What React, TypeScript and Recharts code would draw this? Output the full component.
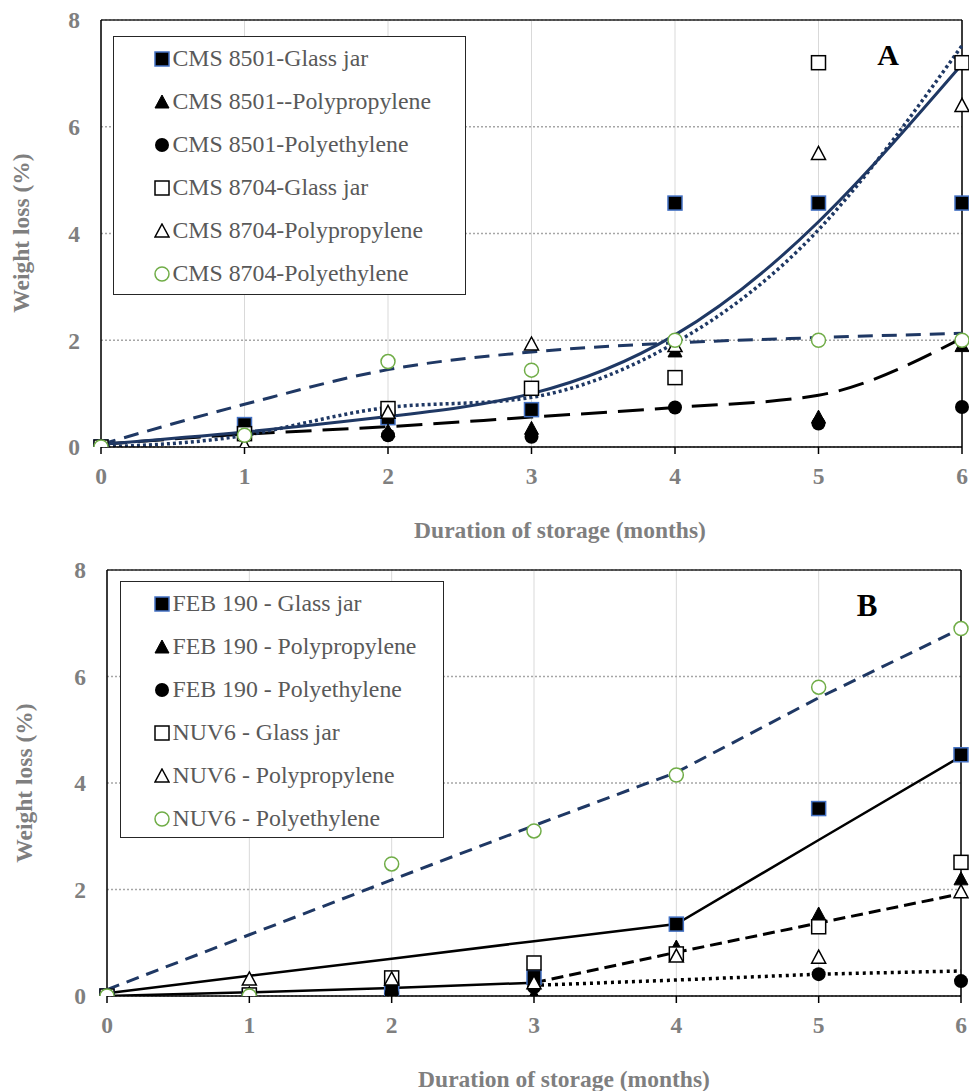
import React from 'react';
import { ComposedChart, Line, Scatter, XAxis, YAxis, CartesianGrid, ReferenceLine, Legend } from 'recharts';

const FONT = '"Liberation Serif", "Times New Roman", serif';

const months = [0, 1, 2, 3, 4, 5, 6];
const yTicks = [0, 2, 4, 6, 8];

// ---------- Panel A ----------
const aLabels = [
  'CMS 8501-Glass jar',
  'CMS 8501--Polypropylene',
  'CMS 8501-Polyethylene',
  'CMS 8704-Glass jar',
  'CMS 8704-Polypropylene',
  'CMS 8704-Polyethylene',
];
const a8501Glass = [0, 0.42, 0.55, 0.7, 4.57, 4.57, 4.57];
const a8501PP = [0, 0.3, 0.3, 0.35, 1.8, 0.56, 1.9];
const a8501PE = [0, 0.2, 0.22, 0.19, 0.74, 0.44, 0.75];
const a8704Glass = [0, 0.25, 0.72, 1.1, 1.3, 7.2, 7.2];
const a8704PP = [0, 0.03, 0.65, 1.93, 1.9, 5.5, 6.4];
const a8704PE = [0, 0.22, 1.6, 1.44, 2.0, 2.0, 2.0];
// trend lines
const aTrendSolid = [0.05, 0.28, 0.57, 1.0, 2.1, 4.22, 7.17];
const aTrendDotted = [0, 0.22, 0.74, 0.93, 1.95, 4.07, 7.52];
const aTrendDashed = [0.05, 0.8, 1.45, 1.78, 1.95, 2.05, 2.13];
const aTrendLongDash = [0.05, 0.24, 0.38, 0.56, 0.74, 0.97, 2.04];

// ---------- Panel B ----------
const bLabels = [
  'FEB 190 - Glass jar',
  'FEB 190 - Polypropylene',
  'FEB 190 - Polyethylene',
  'NUV6 - Glass jar',
  'NUV6 - Polypropylene',
  'NUV6 - Polyethylene',
];
const bFebGlass = [0, 0, 0.1, 0.35, 1.35, 3.52, 4.53];
const bFebPP = [0, 0.05, 0.05, 0.02, 0.92, 1.54, 2.2];
const bFebPE = [0, 0, 0.05, 0.17, 0.8, 0.41, 0.28];
const bNuvGlass = [0, 0.02, 0.34, 0.62, 0.79, 1.3, 2.51];
const bNuvPP = [0, 0.32, 0.32, 0.25, 0.75, 0.73, 1.96];
const bNuvPE = [0, 0, 2.48, 3.1, 4.15, 5.8, 6.9];
// trend lines
const bTrendBlueDash = [0.12, 1.15, 2.18, 3.2, 4.2, 5.6, 6.9];
const bTrendSolid = [0.05, 0.38, 0.7, 1.03, 1.35, 2.93, 4.5];
const bLowMonths = [0, 1, 2, 3];
const bTrendLowSolid = [0, 0.07, 0.15, 0.25];
const bLateMonths = [3, 4, 5, 6];
const bTrendBlackDash = [0.25, 0.82, 1.37, 1.92];
const bTrendDotted = [0.2, 0.3, 0.41, 0.47];

type Pt = { x: number; y: number };
const toPts = (xs: number[], ys: number[]): Pt[] => xs.map((x, i) => ({ x, y: ys[i] }));

// ---------- markers ----------
const H = 7;
const FilledSquare = (p: any) => (
  <rect x={p.cx - H} y={p.cy - H} width={2 * H} height={2 * H} fill="#000" stroke="#4472c4" strokeWidth={1.5} />
);
const OpenSquare = (p: any) => (
  <rect x={p.cx - H} y={p.cy - H} width={2 * H} height={2 * H} fill="#fff" stroke="#000" strokeWidth={1.5} />
);
const triPts = (cx: number, cy: number) => `${cx},${cy - H} ${cx + H},${cy + H - 1} ${cx - H},${cy + H - 1}`;
const FilledTriangle = (p: any) => <polygon points={triPts(p.cx, p.cy)} fill="#000" stroke="#000" strokeWidth={1} />;
const OpenTriangle = (p: any) => <polygon points={triPts(p.cx, p.cy)} fill="#fff" stroke="#000" strokeWidth={1.5} />;
const FilledCircle = (p: any) => <circle cx={p.cx} cy={p.cy} r={H} fill="#000" />;
const GreenCircle = (p: any) => <circle cx={p.cx} cy={p.cy} r={H} fill="#fff" stroke="#70ad47" strokeWidth={1.5} />;

const markerShapes = [FilledSquare, FilledTriangle, FilledCircle, OpenSquare, OpenTriangle, GreenCircle];

const LegendBox = ({ labels, width, height, markerLeft }: { labels: string[]; width: number; height: number; markerLeft: number }) => (
  <div
    style={{
      width,
      height,
      border: '1.5px solid #262626',
      background: '#fff',
      boxSizing: 'border-box',
      fontFamily: FONT,
      fontSize: 23.8,
      color: '#595959',
    }}
  >
    {labels.map((l, i) => {
      const Shape = markerShapes[i];
      return (
        <div key={i} style={{ height: 43, display: 'flex', alignItems: 'center', whiteSpace: 'nowrap' }}>
          <svg width={16} height={16} style={{ marginLeft: markerLeft, flex: 'none' }}>
            <Shape cx={8} cy={8} />
          </svg>
          <span style={{ marginLeft: 3 }}>{l}</span>
        </div>
      );
    })}
  </div>
);

const tickStyle = { fill: '#7f7f7f', fontSize: 23.5, fontWeight: 'bold' as const, fontFamily: FONT };

const titleStyle = (x: number, y: number, rotate = false, extra: any = {}) => ({
  position: 'absolute' as const,
  left: x,
  top: y,
  transform: `translate(-50%, -50%)${rotate ? ' rotate(-90deg)' : ''}`,
  whiteSpace: 'nowrap' as const,
  fontFamily: FONT,
  fontWeight: 'bold' as const,
  fontSize: 23.5,
  color: '#7f7f7f',
  lineHeight: 1,
  ...extra,
});

type PanelProps = {
  height: number;
  margin: { top: number; right: number; left: number; bottom: number };
  yWidth: number;
  xHeight: number;
  scatter: number[][];
  labels: string[];
  legendPos: { left: number; top: number; width: number; height: number; markerLeft: number };
  lines: React.ReactNode;
};

const Panel = ({ height, margin, yWidth, xHeight, scatter, labels, legendPos, lines }: PanelProps) => (
  <ComposedChart width={969} height={height} margin={margin}>
    <CartesianGrid horizontal={false} stroke="#d9d9d9" strokeWidth={1} />
    <CartesianGrid vertical={false} stroke="#a6a6a6" strokeWidth={1.5} strokeDasharray="2 2" />
    <XAxis
      type="number"
      dataKey="x"
      domain={[0, 6]}
      ticks={months}
      height={xHeight}
      tick={tickStyle}
      tickSize={7}
      tickMargin={13}
      axisLine={{ stroke: '#000', strokeWidth: 1.5 }}
      tickLine={{ stroke: '#000', strokeWidth: 1.5 }}
    />
    <YAxis
      type="number"
      dataKey="y"
      domain={[0, 8]}
      ticks={yTicks}
      allowDataOverflow
      width={yWidth}
      tick={tickStyle}
      tickLine={false}
      tickSize={0}
      tickMargin={21}
      axisLine={{ stroke: '#000', strokeWidth: 1.5 }}
    />
    <ReferenceLine y={8} stroke="#262626" strokeWidth={1.5} />
    <ReferenceLine x={6} stroke="#000" strokeWidth={1.5} />
    {lines}
    {scatter.map((vals, i) => (
      <Scatter
        key={i}
        name={labels[i]}
        data={toPts(months, vals)}
        dataKey="y"
        shape={markerShapes[i]}
        isAnimationActive={false}
      />
    ))}
    <Legend
      layout="vertical"
      align="center"
      verticalAlign="middle"
      wrapperStyle={{
        left: legendPos.left,
        top: legendPos.top,
        right: 'auto',
        bottom: 'auto',
        width: legendPos.width,
        height: legendPos.height,
      }}
      content={() => (
        <LegendBox labels={labels} width={legendPos.width} height={legendPos.height} markerLeft={legendPos.markerLeft} />
      )}
    />
  </ComposedChart>
);

const lineCommon = { dataKey: 'y', dot: false, activeDot: false, isAnimationActive: false, legendType: 'none' as const };

export default function App() {
  const linesA = [
    <Line key="a1" {...lineCommon} data={toPts(months, aTrendDashed)} type="monotone" stroke="#1f3864" strokeWidth={3} strokeDasharray="15 9" />,
    <Line key="a2" {...lineCommon} data={toPts(months, aTrendLongDash)} type="monotone" stroke="#000" strokeWidth={3} strokeDasharray="26 11" />,
    <Line key="a3" {...lineCommon} data={toPts(months, aTrendDotted)} type="natural" stroke="#1f3864" strokeWidth={3.5} strokeDasharray="3 3" />,
    <Line key="a4" {...lineCommon} data={toPts(months, aTrendSolid)} type="natural" stroke="#1f3864" strokeWidth={3} />,
  ];
  const linesB = [
    <Line key="b1" {...lineCommon} data={toPts(months, bTrendBlueDash)} type="linear" stroke="#1f3864" strokeWidth={3} strokeDasharray="13 8" />,
    <Line key="b2" {...lineCommon} data={toPts(months, bTrendSolid)} type="linear" stroke="#000" strokeWidth={2.5} />,
    <Line key="b3" {...lineCommon} data={toPts(bLowMonths, bTrendLowSolid)} type="linear" stroke="#000" strokeWidth={2.5} />,
    <Line key="b4" {...lineCommon} data={toPts(bLateMonths, bTrendBlackDash)} type="linear" stroke="#000" strokeWidth={3} strokeDasharray="12 6" />,
    <Line key="b5" {...lineCommon} data={toPts(bLateMonths, bTrendDotted)} type="linear" stroke="#000" strokeWidth={3.5} strokeDasharray="3 4" />,
  ];

  return (
    <div style={{ position: 'absolute', left: 0, top: 0, width: 969, height: 1091, background: '#fff', overflow: 'hidden' }}>
      <div style={{ position: 'absolute', left: 0, top: 0 }}>
        <Panel
          height={545}
          margin={{ top: 20, right: 7, left: 0, bottom: 0 }}
          yWidth={101}
          xHeight={98}
          scatter={[a8501Glass, a8501PP, a8501PE, a8704Glass, a8704PP, a8704PE]}
          labels={aLabels}
          legendPos={{ left: 113, top: 36, width: 353, height: 259, markerLeft: 39.5 }}
          lines={linesA}
        />
      </div>
      <div style={{ position: 'absolute', left: 0, top: 545 }}>
        <Panel
          height={546}
          margin={{ top: 25, right: 8, left: 0, bottom: 0 }}
          yWidth={107}
          xHeight={95}
          scatter={[bFebGlass, bFebPP, bFebPE, bNuvGlass, bNuvPP, bNuvPE]}
          labels={bLabels}
          legendPos={{ left: 120, top: 36, width: 324, height: 257, markerLeft: 32.5 }}
          lines={linesB}
        />
      </div>

      <div style={titleStyle(22, 233, true)}>Weight loss (%)</div>
      <div style={titleStyle(560, 531)}>Duration of storage (months)</div>
      <div style={titleStyle(25, 783, true)}>Weight loss (%)</div>
      <div style={titleStyle(564, 1080)}>Duration of storage (months)</div>
      <div style={titleStyle(888, 55, false, { color: '#000', fontSize: 30 })}>A</div>
      <div style={titleStyle(867, 605, false, { color: '#000', fontSize: 31 })}>B</div>
    </div>
  );
}
